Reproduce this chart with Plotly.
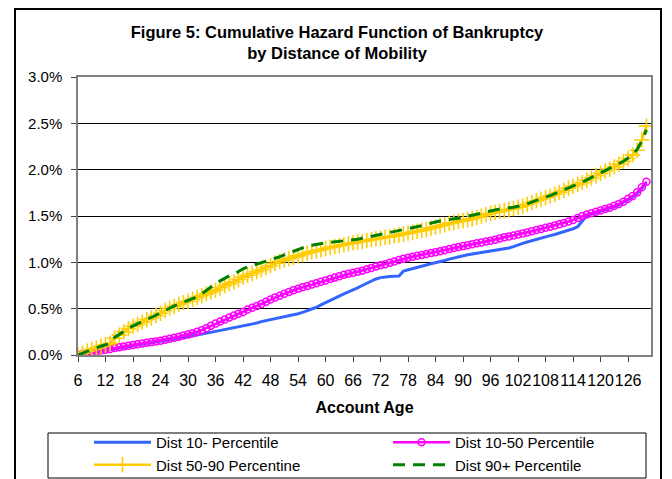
import plotly.graph_objects as go

months = list(range(6, 131))

dist_10 = [0.000, 0.008, 0.016, 0.024, 0.032, 0.040, 0.048, 0.056, 0.064, 0.072,
           0.080, 0.088, 0.096, 0.105, 0.114, 0.122, 0.130, 0.138, 0.146, 0.155,
           0.163, 0.172, 0.180, 0.190, 0.198, 0.207, 0.215, 0.225, 0.235, 0.245,
           0.255, 0.265, 0.275, 0.285, 0.292, 0.300, 0.310, 0.320, 0.330, 0.345,
           0.360, 0.370, 0.380, 0.390, 0.400, 0.410, 0.420, 0.432, 0.445, 0.460,
           0.478, 0.495, 0.515, 0.540, 0.565, 0.590, 0.615, 0.640, 0.660, 0.680,
           0.700, 0.725, 0.750, 0.775, 0.800, 0.820, 0.835, 0.845, 0.848, 0.850,
           0.852, 0.905, 0.920, 0.935, 0.948, 0.960, 0.972, 0.985, 0.995, 1.005,
           1.020, 1.035, 1.048, 1.060, 1.072, 1.082, 1.090, 1.098, 1.105, 1.112,
           1.118, 1.125, 1.132, 1.140, 1.155, 1.170, 1.190, 1.205, 1.220, 1.235,
           1.250, 1.262, 1.275, 1.288, 1.300, 1.315, 1.330, 1.345, 1.362, 1.385,
           1.450, 1.505, 1.520, 1.535, 1.550, 1.565, 1.580, 1.600, 1.620, 1.645,
           1.675, 1.705, 1.745, 1.800, 1.860]

dist_10_50 = [0.000, 0.010, 0.020, 0.030, 0.040, 0.050, 0.058, 0.066, 0.075, 0.083,
              0.091, 0.099, 0.107, 0.115, 0.123, 0.131, 0.139, 0.147, 0.155, 0.165,
              0.176, 0.187, 0.198, 0.210, 0.222, 0.235, 0.250, 0.268, 0.290, 0.315,
              0.340, 0.362, 0.384, 0.405, 0.425, 0.445, 0.465, 0.490, 0.510, 0.530,
              0.550, 0.575, 0.600, 0.620, 0.640, 0.660, 0.680, 0.700, 0.715, 0.730,
              0.745, 0.760, 0.775, 0.790, 0.805, 0.820, 0.835, 0.850, 0.865, 0.878,
              0.888, 0.898, 0.910, 0.925, 0.940, 0.955, 0.968, 0.980, 0.995, 1.010,
              1.025, 1.040, 1.050, 1.060, 1.070, 1.080, 1.090, 1.100, 1.110, 1.120,
              1.130, 1.145, 1.155, 1.165, 1.175, 1.185, 1.195, 1.205, 1.215, 1.225,
              1.232, 1.245, 1.258, 1.270, 1.280, 1.290, 1.300, 1.310, 1.322, 1.335,
              1.348, 1.360, 1.372, 1.385, 1.397, 1.410, 1.425, 1.440, 1.458, 1.478,
              1.500, 1.515, 1.530, 1.545, 1.560, 1.575, 1.590, 1.610, 1.630, 1.655,
              1.685, 1.715, 1.755, 1.810, 1.870]

dist_50_90 = [0.000, 0.020, 0.040, 0.060, 0.075, 0.095, 0.110, 0.125, 0.180, 0.215,
              0.250, 0.285, 0.310, 0.330, 0.355, 0.380, 0.400, 0.425, 0.450, 0.480,
              0.505, 0.525, 0.545, 0.565, 0.580, 0.600, 0.620, 0.640, 0.660, 0.680,
              0.700, 0.725, 0.750, 0.770, 0.790, 0.815, 0.840, 0.860, 0.880, 0.900,
              0.920, 0.945, 0.965, 0.990, 1.010, 1.025, 1.040, 1.055, 1.070, 1.085,
              1.100, 1.115, 1.125, 1.135, 1.150, 1.160, 1.170, 1.180, 1.190, 1.200,
              1.210, 1.220, 1.225, 1.235, 1.245, 1.255, 1.260, 1.270, 1.275, 1.285,
              1.295, 1.305, 1.315, 1.325, 1.335, 1.345, 1.355, 1.370, 1.380, 1.395,
              1.405, 1.420, 1.430, 1.440, 1.450, 1.460, 1.470, 1.485, 1.500, 1.515,
              1.530, 1.540, 1.550, 1.560, 1.570, 1.580, 1.595, 1.605, 1.625, 1.645,
              1.665, 1.680, 1.700, 1.715, 1.735, 1.755, 1.775, 1.800, 1.820, 1.840,
              1.860, 1.885, 1.910, 1.935, 1.960, 1.985, 2.005, 2.030, 2.060, 2.090,
              2.120, 2.160, 2.210, 2.320, 2.470]

dist_90_plus = [0.000, 0.020, 0.040, 0.060, 0.080, 0.095, 0.110, 0.130, 0.190, 0.220,
                0.255, 0.290, 0.315, 0.335, 0.360, 0.385, 0.405, 0.430, 0.455, 0.485,
                0.510, 0.530, 0.550, 0.570, 0.590, 0.610, 0.630, 0.660, 0.700, 0.740,
                0.770, 0.800, 0.830, 0.855, 0.870, 0.900, 0.930, 0.950, 0.965, 0.980,
                0.995, 1.010, 1.030, 1.045, 1.060, 1.080, 1.100, 1.120, 1.140, 1.160,
                1.175, 1.185, 1.195, 1.205, 1.210, 1.215, 1.220, 1.225, 1.230, 1.240,
                1.245, 1.250, 1.260, 1.270, 1.280, 1.290, 1.300, 1.310, 1.320, 1.330,
                1.340, 1.350, 1.360, 1.370, 1.380, 1.395, 1.410, 1.425, 1.435, 1.445,
                1.455, 1.465, 1.470, 1.475, 1.485, 1.495, 1.505, 1.520, 1.530, 1.545,
                1.555, 1.570, 1.575, 1.580, 1.585, 1.595, 1.605, 1.615, 1.630, 1.650,
                1.670, 1.690, 1.705, 1.720, 1.740, 1.760, 1.780, 1.805, 1.825, 1.845,
                1.865, 1.890, 1.915, 1.940, 1.965, 1.990, 2.010, 2.035, 2.060, 2.090,
                2.125, 2.165, 2.220, 2.310, 2.430]

x_ticks = list(range(6, 127, 6))
y_ticks = [0.0, 0.5, 1.0, 1.5, 2.0, 2.5, 3.0]

FONT = "Liberation Sans, Arial, sans-serif"

fig = go.Figure()
fig.add_trace(go.Scatter(x=months, y=dist_10, mode="lines", name="Dist 10- Percentile",
                         legend="legend",
                         line=dict(color="#3366FF", width=3)))
fig.add_trace(go.Scatter(x=months, y=dist_10_50, mode="lines+markers", name="Dist 10-50 Percentile",
                         legend="legend2",
                         line=dict(color="#FF00FF", width=2.5),
                         marker=dict(symbol="circle-open", size=7, color="#FF00FF",
                                     line=dict(width=1.5, color="#FF00FF"))))
fig.add_trace(go.Scatter(x=months, y=dist_50_90, mode="lines+markers", name="Dist 50-90 Percentine",
                         legend="legend",
                         line=dict(color="#FFCC00", width=2.5),
                         marker=dict(symbol="cross-thin", size=11, color="#FFCC00",
                                     line=dict(width=1.6, color="#FFCC00"))))
fig.add_trace(go.Scatter(x=months, y=dist_90_plus, mode="lines", name="Dist 90+ Percentile",
                         legend="legend2",
                         line=dict(color="#008000", width=3, dash="12px,8px")))

# The page body has an 8px margin, so the figure is offset by 8px in the window.
OFF = 8
FW, FH = 672 - OFF, 479 - OFF
# plot area in window pixels
L, R, T, B = 78, 651, 77, 355
def px(v):
    return (v - L) / (R - L)
def py(v):
    return (B - v) / (B - T)

legend_common = dict(orientation="v", xanchor="left", yanchor="top", bgcolor="rgba(0,0,0,0)",
                     borderwidth=0, font=dict(size=15), itemwidth=57, tracegroupgap=0)

fig.update_layout(
    width=FW, height=FH,
    margin=dict(l=L - OFF, r=FW - (R - OFF), t=T - OFF, b=FH - (B - OFF), autoexpand=False),
    paper_bgcolor="white", plot_bgcolor="white",
    font=dict(family=FONT, size=15, color="black"),
    title=dict(text="<b>Figure 5: Cumulative Hazard Function of Bankruptcy<br>by Distance of Mobility</b>",
               x=(337 - OFF) / FW, xanchor="center", y=1 - 30 / FH, yanchor="top",
               font=dict(family=FONT, size=16.5, color="black")),
    xaxis=dict(range=[6, 131], tickvals=x_ticks, ticktext=[str(v) for v in x_ticks],
               ticks="outside", ticklen=5, tickcolor="#404040", showline=True,
               linecolor="#808080", linewidth=1.5, mirror=True, showgrid=False, zeroline=False,
               tickfont=dict(size=16), tickangle=0, ticklabelstandoff=5,
               title=dict(text="<b>Account Age</b>", font=dict(size=16), standoff=14)),
    yaxis=dict(range=[0, 3.0], tickvals=y_ticks, ticktext=[f"{v:.1f}%" for v in y_ticks],
               ticks="outside", ticklen=5, tickcolor="#404040", showline=True,
               linecolor="#808080", linewidth=1.5, mirror=True, showgrid=True,
               gridcolor="black", gridwidth=1, zeroline=False, tickfont=dict(size=15),
               ticklabelstandoff=6),
    legend=dict(x=px(89), y=py(426), **legend_common),
    legend2=dict(x=px(388), y=py(426), **legend_common),
    shapes=[
        dict(type="rect", xref="paper", yref="paper", x0=px(15), x1=px(661), y0=py(500), y1=py(OFF + 1),
             line=dict(color="black", width=2), fillcolor="rgba(0,0,0,0)", layer="below"),
        dict(type="rect", xref="paper", yref="paper", x0=px(48), x1=px(646), y0=py(478), y1=py(433),
             line=dict(color="black", width=1), fillcolor="rgba(0,0,0,0)", layer="below"),
    ],
)

fig.write_html("out.html")
